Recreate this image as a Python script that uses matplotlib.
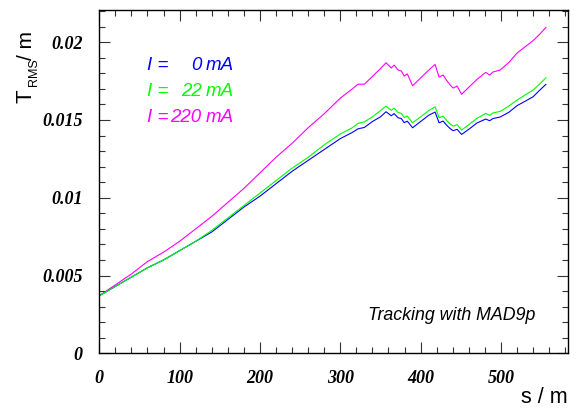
import matplotlib
matplotlib.use("Agg")
import matplotlib.pyplot as plt
from matplotlib.ticker import MultipleLocator

# ---- data ----
s_pos = [0, 0, 20, 40, 60, 80, 100, 120, 140, 160, 180, 200, 220, 240, 260, 280,
         300, 315, 322, 330, 340, 350, 357, 363.5, 367, 372, 376, 379.5, 383.5,
         390, 400, 410, 418, 423, 428, 433, 437, 440.5, 445.5, 451, 460, 470,
         481, 486, 490, 499, 510, 520, 530, 540, 548, 556]

t_220mA = [0, 0.0037, 0.0044, 0.0051, 0.0059, 0.0065, 0.0072, 0.0080, 0.0088, 0.0097,
           0.0106, 0.0116, 0.0126, 0.0135, 0.0145, 0.0154, 0.0164, 0.0170, 0.0173,
           0.0173, 0.0178, 0.0183, 0.01868, 0.01834, 0.01853, 0.01821, 0.01815,
           0.01783, 0.01796, 0.0172, 0.0177, 0.0182, 0.01857, 0.01776, 0.01789,
           0.0175, 0.01724, 0.01705, 0.01718, 0.01665, 0.0171, 0.0176, 0.01806,
           0.01789, 0.01808, 0.01821, 0.0187, 0.0193, 0.0197, 0.0201, 0.0205, 0.02095]

t_22mA = [0, 0.0037, 0.0043, 0.0049, 0.0055, 0.0060, 0.0066, 0.0072, 0.0079, 0.0087,
          0.0095, 0.0103, 0.0111, 0.0119, 0.0126, 0.0134, 0.0141, 0.0145, 0.01478,
          0.01488, 0.0152, 0.0156, 0.01589, 0.01562, 0.01576, 0.01548, 0.01543,
          0.01516, 0.01525, 0.01482, 0.0152, 0.0156, 0.01585, 0.01514, 0.01525,
          0.01494, 0.01474, 0.0146, 0.0147, 0.01435, 0.0147, 0.0151, 0.01542,
          0.0153, 0.01545, 0.01555, 0.0159, 0.01628, 0.0166, 0.01692, 0.0173, 0.01771]

t_0mA = [0, 0.0037, 0.0043, 0.0049, 0.0055, 0.0060, 0.0066, 0.0072, 0.0078, 0.0086,
         0.0094, 0.0101, 0.0109, 0.0117, 0.0124, 0.0131, 0.0138, 0.0142, 0.01443,
         0.01452, 0.0149, 0.0152, 0.01553, 0.01527, 0.01541, 0.01514, 0.01509,
         0.01483, 0.01492, 0.0145, 0.0149, 0.0153, 0.01551, 0.01482, 0.01493,
         0.01463, 0.01444, 0.01431, 0.0144, 0.01407, 0.0144, 0.0148, 0.01506,
         0.01495, 0.01509, 0.01519, 0.0155, 0.01592, 0.0162, 0.01649, 0.0169, 0.01729]

currents = ["0", "22", "220"]
colors = ["#0000ff", "#00ff00", "#ff00ff"]

x_ticks = [0, 100, 200, 300, 400, 500]
x_labels = ["0", "100", "200", "300", "400", "500"]
y_ticks = [0, 0.005, 0.01, 0.015, 0.02]
y_labels = ["0", "0.005", "0.01", "0.015", "0.02"]

# ---- figure ----
W, H = 577, 408
fig = plt.figure(figsize=(W / 100, H / 100), dpi=100)
ax = fig.add_axes([99.3 / W, 1 - 353.3 / H, (568 - 99.3) / W, (353.3 - 10) / H])

ax.plot(s_pos, t_220mA, color=colors[2], lw=0.8)
ax.plot(s_pos, t_0mA, color=colors[0], lw=0.8)
ax.plot(s_pos, t_22mA, color=colors[1], lw=0.8)

ax.set_xlim(0, 583.5)
ax.set_ylim(0, 0.02207)

tickfont = dict(family="Liberation Serif", weight="bold", style="italic", size=13)
ax.set_xticks(x_ticks)
ax.set_xticklabels(x_labels, fontdict=tickfont)
ax.set_yticks(y_ticks)
ax.set_yticklabels(y_labels, fontdict=tickfont)
ax.xaxis.set_minor_locator(MultipleLocator(20))
ax.yaxis.set_minor_locator(MultipleLocator(0.001))
ax.tick_params(which="both", direction="in", top=True, right=True, width=0.8, color="#333333")
ax.tick_params(which="major", length=8, pad=12)
ax.tick_params(which="minor", length=4)
for sp in ax.spines.values():
    sp.set_linewidth(1.0)

# y axis label built from pieces: T, subscript RMS, " / m"
lab = dict(family="Liberation Sans", rotation=90, rotation_mode="anchor",
           ha="left", va="baseline")
fig.text(32 / W, 1 - 103 / H, "T", fontsize=16, **lab)
fig.text(37 / W, 1 - 85.5 / H, "RMS", fontsize=9, **lab)
fig.text(32 / W, 1 - 60 / H, "/ m", fontsize=15, **lab)

fig.text(568 / W, 1 - 403 / H, "s / m", ha="right", va="baseline",
         family="Liberation Sans", fontsize=15.5)

# legend texts
ys_px = [65.0, 91.0, 117.5]
for cur, col, yp in zip(currents, colors, ys_px):
    yf = 1 - yp / H
    fig.text(147.3 / W, yf, "I =", color=col, ha="left", va="center",
             family="Liberation Sans", style="italic", fontsize=13.5)
    fig.text(201.7 / W, yf, cur, color=col, ha="right", va="center",
             family="Liberation Sans", style="italic", fontsize=13.5)
    fig.text(206.0 / W, yf, "mA", color=col, ha="left", va="center",
             family="Liberation Sans", style="italic", fontsize=13.5)

fig.text(368 / W, 1 - 315 / H, "Tracking with MAD9p", ha="left", va="center",
         family="Liberation Sans", style="italic", fontsize=12.8)

fig.savefig("out.png", dpi=100)
